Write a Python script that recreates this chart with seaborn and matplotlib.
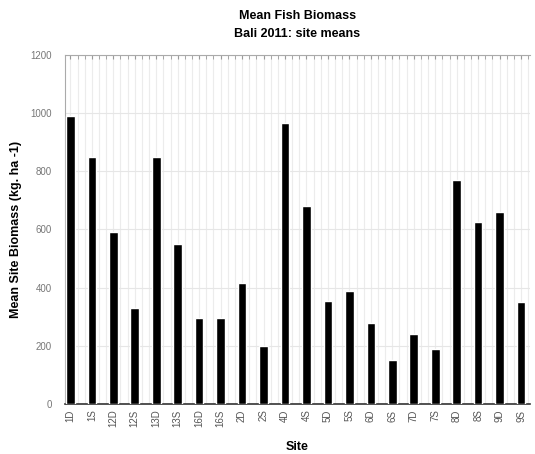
import matplotlib
matplotlib.use('Agg')
import matplotlib.pyplot as plt
from matplotlib.ticker import MultipleLocator
import pandas as pd
import seaborn as sns

sites = ['1D', '1S', '12D', '12S', '13D', '13S', '16D', '16S', '2D', '2S', '4D',
         '4S', '5D', '5S', '6D', '6S', '7D', '7S', '8D', '8S', '9D', '9S']
biomass = [990, 850, 590, 330, 850, 550, 295, 295, 415, 200, 965,
           680, 355, 390, 280, 150, 240, 190, 770, 625, 660, 350]

df = pd.DataFrame({'Site': sites, 'Biomass': biomass})

sns.set_style('white')
plt.rcParams['font.family'] = ['Liberation Sans Narrow', 'Liberation Sans', 'DejaVu Sans']

fig = plt.figure(figsize=(5.35, 4.54), dpi=100)
ax = fig.add_axes([0.1215, 0.11, 0.8685, 0.769])

sns.barplot(data=df, x='Site', y='Biomass', color='black', width=0.4,
            saturation=1, ax=ax, zorder=3)

ax.set_xlim(-0.25, 21.4)
ax.set_ylim(0, 1200)
ax.yaxis.set_major_locator(MultipleLocator(200))
ax.xaxis.set_minor_locator(MultipleLocator(1 / 3))

# faint grid like the original export
ax.grid(True, axis='y', which='major', color='#e6e6e6', linewidth=0.8, zorder=0)
ax.grid(True, axis='x', which='both', color='#ececec', linewidth=0.8, zorder=0)

for side in ['top', 'left', 'right']:
    ax.spines[side].set_color('#aaaaaa')
    ax.spines[side].set_linewidth(0.8)
ax.spines['right'].set_visible(False)
ax.spines['bottom'].set_color('#333333')
ax.spines['bottom'].set_linewidth(1.2)

ax.tick_params(axis='x', which='both', top=True, bottom=False, direction='in',
               length=3, color='#999999', labelsize=7, labelcolor='#555555',
               labelrotation=90, pad=4)
ax.tick_params(axis='y', left=False, labelsize=7, labelcolor='#777777', pad=6)

ax.set_title('Mean Fish Biomass\nBali 2011: site means', fontsize=9,
             fontweight='bold', color='black', pad=13, linespacing=1.6)
ax.set_xlabel('Site', fontsize=9, fontweight='bold', color='black', labelpad=10)
ax.set_ylabel('Mean Site Biomass (kg. ha -1)', fontsize=9, fontweight='bold',
              color='black', labelpad=6)

fig.savefig('out.png', dpi=100)
